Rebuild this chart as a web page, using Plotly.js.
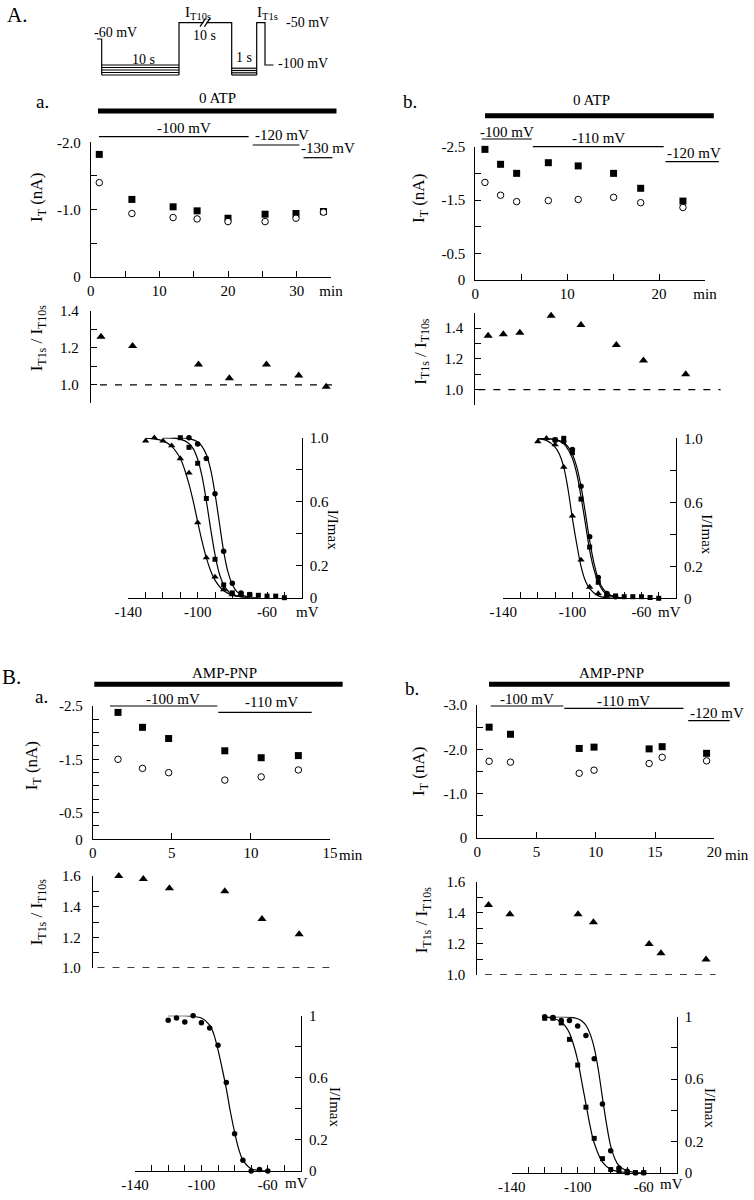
<!DOCTYPE html>
<html><head><meta charset="utf-8">
<script src="https://cdn.plot.ly/plotly-3.0.1.min.js"></script>
<style>body{margin:0;background:#fff}#chart{width:754px;height:1200px}</style>
</head><body><div id="chart"></div>
<script>
// ---------------- DATA ----------------
// A.a  (0 ATP)  IT vs time
const Aa_time_sq = [1.25, 6.0, 12.0, 15.5, 20.0, 25.4, 29.9, 33.9];
const Aa_IT1s    = [-1.82, -1.15, -1.04, -0.98, -0.87, -0.93, -0.94, -0.97];
const Aa_IT10s   = [-1.40, -0.94, -0.88, -0.86, -0.82, -0.82, -0.87, -0.96];
const Aa_time_r  = [1.5, 6.1, 15.7, 20.2, 25.6, 30.3, 34.3];
const Aa_ratio   = [1.26, 1.21, 1.11, 1.035, 1.11, 1.05, 0.99];
// A.a  I/Imax
const Aa_V_tri = [-130,-125,-120,-115,-110,-105,-100,-95,-90,-85,-80,-75];
const Aa_I_tri = [0.98,1.0,0.98,0.95,0.87,0.78,0.47,0.25,0.13,0.05,0.02,0.02];
const Aa_V_sq  = [-110,-105,-100,-95,-90,-85,-80,-75,-70,-65,-60,-55,-50];
const Aa_I_sq  = [1.0,0.94,0.84,0.62,0.24,0.08,0.03,0.02,0.02,0.015,0.01,0.01,0.0];
const Aa_V_ci  = [-105,-100,-95,-90,-85,-80,-75,-70];
const Aa_I_ci  = [1.0,0.96,0.87,0.65,0.29,0.09,0.03,0.02];
const Aa_fitV_tri = [-130,-125,-120,-115,-110,-107.5,-105,-102.5,-100,-97.5,-95,-92.5,-90,-85,-80,-75,-70];
const Aa_fitI_tri = [0.997,0.992,0.98,0.946,0.87,0.80,0.71,0.60,0.475,0.354,0.25,0.168,0.11,0.043,0.016,0.006,0.0];
const Aa_fitV_sq  = [-120,-110,-105,-102.5,-100,-97.5,-95,-92.5,-90,-87.5,-85,-82.5,-80,-75,-70];
const Aa_fitI_sq  = [0.9995,0.991,0.964,0.93,0.865,0.76,0.606,0.43,0.27,0.15,0.081,0.042,0.021,0.005,0.0];
const Aa_fitV_ci  = [-115,-110,-105,-100,-97.5,-95,-92.5,-90,-87.5,-85,-82.5,-80,-77.5,-75,-70,-65];
const Aa_fitI_ci  = [1.0,0.999,0.994,0.975,0.946,0.895,0.80,0.65,0.47,0.29,0.16,0.083,0.04,0.02,0.004,0.0];

// A.b  (0 ATP)
const Ab_time_sq = [1.05, 2.75, 4.5, 7.95, 11.2, 15.05, 18.0, 22.6];
const Ab_IT1s    = [-2.45, -2.17, -2.0, -2.2, -2.14, -2.0, -1.72, -1.48];
const Ab_IT10s   = [-1.83, -1.59, -1.47, -1.49, -1.51, -1.55, -1.45, -1.36];
const Ab_time_r  = [1.4, 3.05, 4.85, 8.25, 11.5, 15.35, 18.3, 22.9];
const Ab_ratio   = [1.35, 1.36, 1.37, 1.48, 1.42, 1.29, 1.19, 1.10];
const Ab_V_tri = [-120,-115,-110,-105,-100,-95,-90,-85,-80];
const Ab_I_tri = [0.98,1.0,0.96,0.82,0.515,0.24,0.07,0.03,0.02];
const Ab_V_sq  = [-110,-105,-100,-95,-90,-85,-80,-75,-70,-65,-60,-55,-50];
const Ab_I_sq  = [0.99,1.0,0.91,0.62,0.32,0.10,0.02,0.015,0.01,0.01,0.01,0.005,0.0];
const Ab_V_ci  = [-110,-105,-100,-95,-90,-85,-80,-75];
const Ab_I_ci  = [0.99,0.98,0.93,0.70,0.385,0.13,0.03,0.01];
const Ab_fitV_tri = [-120,-115,-110,-107.5,-105,-102.5,-100,-97.5,-95,-92.5,-90,-85,-80,-75];
const Ab_fitI_tri = [0.997,0.987,0.945,0.90,0.82,0.68,0.50,0.34,0.20,0.11,0.06,0.015,0.003,0.0];
const Ab_fitV_sq  = [-120,-110,-105,-102.5,-100,-97.5,-95,-92.5,-90,-87.5,-85,-82.5,-80,-75,-70];
const Ab_fitI_sq  = [0.999,0.991,0.965,0.93,0.875,0.78,0.635,0.47,0.30,0.18,0.10,0.05,0.026,0.007,0.0];
const Ab_fitV_ci  = [-120,-110,-105,-102.5,-100,-97.5,-95,-92.5,-90,-87.5,-85,-82.5,-80,-75,-70];
const Ab_fitI_ci  = [0.9995,0.993,0.973,0.946,0.90,0.823,0.70,0.535,0.36,0.22,0.12,0.064,0.034,0.009,0.0];

// B.a  (AMP-PNP)
const Ba_time_sq = [1.6, 3.15, 4.8, 8.35, 10.65, 13.0];
const Ba_IT1s    = [-2.38, -2.10, -1.89, -1.66, -1.53, -1.57];
const Ba_IT10s   = [-1.50, -1.33, -1.25, -1.11, -1.17, -1.30];
const Ba_time_r  = [1.65, 3.2, 4.85, 8.35, 10.7, 13.05];
const Ba_ratio   = [1.60, 1.58, 1.52, 1.50, 1.32, 1.22];
const Ba_V_ci = [-120,-115,-110,-105,-100,-95,-90,-85,-80,-75,-70,-65,-60];
const Ba_I_ci = [0.97,0.985,0.96,1.0,0.955,0.92,0.81,0.57,0.24,0.07,0.0,0.01,0.0];
const Ba_fitV_ci = [-120,-110,-105,-100,-95,-92.5,-90,-87.5,-85,-82.5,-80,-77.5,-75,-70,-65,-60];
const Ba_fitI_ci = [1.0,1.0,0.995,0.985,0.94,0.88,0.78,0.66,0.53,0.38,0.25,0.14,0.07,0.015,0.003,0.0];

// B.b  (AMP-PNP)
const Bb_time_sq = [1.0, 2.8, 8.6, 9.85, 14.5, 15.6, 19.35];
const Bb_IT1s    = [-2.50, -2.34, -2.02, -2.05, -2.01, -2.06, -1.91];
const Bb_IT10s   = [-1.73, -1.71, -1.46, -1.53, -1.68, -1.82, -1.74];
const Bb_time_r  = [0.95, 2.75, 8.5, 9.8, 14.5, 15.5, 19.3];
const Bb_ratio   = [1.45, 1.39, 1.39, 1.34, 1.20, 1.14, 1.10];
const Bb_V_sq = [-120,-115,-110,-105,-100,-95,-90,-85,-80,-75,-70,-65,-60];
const Bb_I_sq = [0.99,0.99,0.96,0.855,0.69,0.42,0.22,0.09,0.02,0.01,0.0,0.0,0.0];
const Bb_V_ci = [-120,-115,-110,-105,-100,-95,-90,-85,-80,-75,-70,-65,-60];
const Bb_I_ci = [1.0,0.995,0.975,0.975,0.94,0.88,0.73,0.44,0.14,0.03,0.01,0.0,0.0];
const Bb_fitV_sq = [-120,-115,-110,-107.5,-105,-102.5,-100,-97.5,-95,-92.5,-90,-85,-80,-75,-70];
const Bb_fitI_sq = [0.997,0.99,0.966,0.94,0.895,0.82,0.72,0.58,0.44,0.30,0.19,0.068,0.022,0.007,0.0];
const Bb_fitV_ci = [-120,-110,-105,-100,-97.5,-95,-92.5,-90,-87.5,-85,-82.5,-80,-77.5,-75,-70,-65,-60];
const Bb_fitI_ci = [1.0,0.999,0.997,0.987,0.973,0.945,0.89,0.80,0.66,0.48,0.31,0.17,0.09,0.045,0.011,0.003,0.0];

// voltage epochs (min) and labels
const Aa_epochStart = [1.2, 23.6, 31.0], Aa_epochEnd = [23.0, 30.4, 35.2];
const Aa_epochLabel = ['-100 mV', '-120 mV', '-130 mV'], Aa_epochLabelX = [13.6, 27.8, 34.5];
const Ab_epochStart = [0.7, 6.26, 20.7], Ab_epochEnd = [6.15, 20.5, 26.5];
const Ab_epochLabel = ['-100 mV', '-110 mV', '-120 mV'], Ab_epochLabelX = [3.46, 13.4, 23.75];
const Ba_epochStart = [1.09, 7.94], Ba_epochEnd = [7.88, 13.84];
const Ba_epochLabel = ['-100 mV', '-110 mV'], Ba_epochLabelX = [5.1, 11.3];
const Bb_epochStart = [1.13, 7.34, 17.8], Bb_epochEnd = [7.26, 17.4, 21.3];
const Bb_epochLabel = ['-100 mV', '-110 mV', '-120 mV'], Bb_epochLabelX = [4.2, 12.3, 20.2];
const drugStart = {Aa:1.06, Ab:1.06, Ba:0.1, Bb:0.99};
const drugEnd   = {Aa:35.8, Ab:25.96, Ba:15.8, Bb:21.3};
const drugLabel = {Aa:'0 ATP', Ab:'0 ATP', Ba:'AMP-PNP', Bb:'AMP-PNP'};
const drugLabelX = {Aa:18.5, Ab:12.7, Ba:8.3, Bb:11.3};

// protocol schematic (diagram units = page pixels)
const protoX = [97,101.7,101.7,null,101.7,179,null,101.7,179,null,101.7,179,null,101.7,179,null,101.7,179,null,
  179,179,203.5,null,206.5,231.7,231.7,null,231.7,256.7,null,231.7,256.7,null,231.7,256.7,null,231.7,256.7,null,
  256.7,256.7,265,265,273.5,null,200,205.5,null,204.5,210];
const protoY = [39,39,75,null,65,65,null,67.5,67.5,null,70,70,null,72.5,72.5,null,75,75,null,
  75,22.7,22.7,null,22.7,22.7,75,null,68.2,68.2,null,70.5,70.5,null,72.8,72.8,null,75,75,null,
  75,22.7,22.7,65,65,null,26.7,18.3,null,26.7,18.3];

// ---------------- LAYOUT HELPERS ----------------
const W = 754, H = 1200, FONT = '"Liberation Serif", "Times New Roman", serif';
const dx = (a,b) => [a/W, b/W];
const dy = (top,bot) => [1-bot/H, 1-top/H];
const fx = p => p/W, fy = p => 1-p/H;
const base = {showline:true, linecolor:'#000', linewidth:1, ticks:'inside', ticklen:6, tickwidth:1,
  tickcolor:'#000', showgrid:false, zeroline:false, fixedrange:true, tickmode:'array',
  tickfont:{family:FONT, size:15, color:'#000'}};
const ax = o => Object.assign({}, base, o);
const hidden = o => Object.assign({visible:false, fixedrange:true}, o);

const R = {
  Aa:{x:[0,35]}, Ab:{x:[0,25]}, Ba:{x:[0,15]}, Bb:{x:[0,20]}
};
const frac = (r,v) => (v - r[0])/(r[1]-r[0]);

const ivX = (dom) => ax({domain:dom, range:[-140,-40], tickvals:[-140,-130,-120,-110,-100,-90,-80,-70,-60,-50],
  ticktext:['-140','','','','-100','','','','-60','']});
const ivY = (dom, top) => ax({domain:dom, range:[0,1], side:'right', tickvals:[0,0.2,0.4,0.6,0.8,1.0],
  ticktext:['0','0.2','','0.6','',top], ticklabelstandoff:4});

const layout = {
  width:W, height:H, margin:{l:0,r:0,t:0,b:0}, paper_bgcolor:'#fff', plot_bgcolor:'rgba(0,0,0,0)',
  showlegend:false, font:{family:FONT, size:15, color:'#000'},
  // A.a
  xaxis: ax({domain:dx(90.7,331), range:R.Aa.x, anchor:'y', tickvals:[0,5,10,15,20,25,30,35],
    ticktext:['0','','10','','20','','30','min']}),
  yaxis: ax({domain:dy(142.3,276.7), range:[0,-2], anchor:'x', tickvals:[0,-0.5,-1,-1.5,-2],
    ticktext:['0','','-1.0','','-2.0'], ticklabelstandoff:6}),
  xaxis2: hidden({domain:dx(90.7,331), range:R.Aa.x, anchor:'y2'}),
  yaxis2: ax({domain:dy(310.7,403.3), range:[0.9,1.4], anchor:'x2', tickvals:[0.9,1.0,1.1,1.2,1.3,1.4],
    ticktext:['','1.0','','1.2','','1.4'], ticklabelstandoff:8}),
  xaxis3: Object.assign(ivX(dx(128.3,301.7)), {anchor:'y3'}),
  yaxis3: Object.assign(ivY(dy(437.7,597.7),'1.0'), {anchor:'x3'}),
  // A.b
  xaxis4: ax({domain:dx(475.3,705), range:R.Ab.x, anchor:'y4', tickvals:[0,5,10,15,20,25],
    ticktext:['0','','10','','20','min']}),
  yaxis4: ax({domain:dy(146.7,280), range:[0,-2.5], anchor:'x4', tickvals:[0,-0.5,-1,-1.5,-2,-2.5],
    ticktext:['0','-0.5','','-1.5','','-2.5'], ticklabelstandoff:6}),
  xaxis5: hidden({domain:dx(475.3,705), range:R.Ab.x, anchor:'y5'}),
  yaxis5: ax({domain:dy(312.7,405), range:[0.9,1.5], anchor:'x5', tickvals:[0.9,1.0,1.1,1.2,1.3,1.4,1.5],
    ticktext:['','1.0','','1.2','','1.4',''], ticklabelstandoff:8}),
  xaxis6: Object.assign(ivX(dx(503.3,676)), {anchor:'y6'}),
  yaxis6: Object.assign(ivY(dy(438.3,598.3),'1.0'), {anchor:'x6'}),
  // B.a
  xaxis7: ax({domain:dx(92.7,330), range:R.Ba.x, anchor:'y7', tickvals:[0,5,10,15], ticktext:['0','5','10','15']}),
  yaxis7: ax({domain:dy(706,839.3), range:[0,-2.5], anchor:'x7',
    tickvals:[0,-0.25,-0.5,-0.75,-1,-1.25,-1.5,-1.75,-2,-2.25,-2.5],
    ticktext:['0','','-0.5','','','','-1.5','','','','-2.5'], ticklabelstandoff:6}),
  xaxis8: hidden({domain:dx(92.7,330), range:R.Ba.x, anchor:'y8'}),
  yaxis8: ax({domain:dy(876,968), range:[1.0,1.6], anchor:'x8', tickvals:[1.0,1.1,1.2,1.3,1.4,1.5,1.6],
    ticktext:['1.0','','1.2','','1.4','','1.6'], ticklabelstandoff:8}),
  xaxis9: Object.assign(ivX(dx(135,301)), {anchor:'y9'}),
  yaxis9: Object.assign(ivY(dy(1015.7,1171),'1'), {anchor:'x9'}),
  // B.b
  xaxis10: ax({domain:dx(477.3,714.3), range:R.Bb.x, anchor:'y10', tickvals:[0,5,10,15,20], ticktext:['0','5','10','15','20']}),
  yaxis10: ax({domain:dy(705,838), range:[0,-3], anchor:'x10', tickvals:[0,-0.5,-1,-1.5,-2,-2.5,-3],
    ticktext:['0','','-1.0','','-2.0','','-3.0'], ticklabelstandoff:6}),
  xaxis11: hidden({domain:dx(477.3,714.3), range:R.Bb.x, anchor:'y11'}),
  yaxis11: ax({domain:dy(881.7,975), range:[1.0,1.6], anchor:'x11', tickvals:[1.0,1.1,1.2,1.3,1.4,1.5,1.6],
    ticktext:['1.0','','1.2','','1.4','','1.6'], ticklabelstandoff:8}),
  xaxis12: Object.assign(ivX(dx(511.7,676.7)), {anchor:'y12'}),
  yaxis12: Object.assign(ivY(dy(1016.7,1172.7),'1'), {anchor:'x12'}),
  // protocol diagram overlay (page-pixel units)
  xaxis13: hidden({domain:[0,1], range:[0,W], anchor:'y13'}),
  yaxis13: hidden({domain:[0,1], range:[H,0], anchor:'x13'}),
  shapes:[], annotations:[]
};

// ---------------- TRACES ----------------
const traces = [];
const sq = (x,y,xa,ya,s) => ({x,y,xaxis:xa,yaxis:ya,type:'scatter',mode:'markers',cliponaxis:false,
  marker:{symbol:'square',size:s||7,color:'#000'}});
const ci = (x,y,xa,ya,s) => ({x,y,xaxis:xa,yaxis:ya,type:'scatter',mode:'markers',cliponaxis:false,
  marker:{symbol:'circle',size:s||6.5,color:'#fff',line:{color:'#000',width:1}}});
const cif = (x,y,xa,ya) => ({x,y,xaxis:xa,yaxis:ya,type:'scatter',mode:'markers',cliponaxis:false,
  marker:{symbol:'circle',size:5.5,color:'#000'}});
const tri = (x,y,xa,ya,s) => ({x,y,xaxis:xa,yaxis:ya,type:'scatter',mode:'markers',cliponaxis:false,
  marker:{symbol:'triangle-up',size:s||8,color:'#000'}});
const fit = (x,y,xa,ya) => ({x,y,xaxis:xa,yaxis:ya,type:'scatter',mode:'lines',cliponaxis:false,
  line:{color:'#000',width:1.2,shape:'spline',smoothing:1}});

// A.a
traces.push(sq(Aa_time_sq,Aa_IT1s,'x','y'), ci(Aa_time_sq,Aa_IT10s,'x','y'), tri(Aa_time_r,Aa_ratio,'x2','y2'));
traces.push(fit(Aa_fitV_tri,Aa_fitI_tri,'x3','y3'), fit(Aa_fitV_sq,Aa_fitI_sq,'x3','y3'), fit(Aa_fitV_ci,Aa_fitI_ci,'x3','y3'));
traces.push(tri(Aa_V_tri,Aa_I_tri,'x3','y3',6.5), sq(Aa_V_sq,Aa_I_sq,'x3','y3',5), cif(Aa_V_ci,Aa_I_ci,'x3','y3'));
// A.b
traces.push(sq(Ab_time_sq,Ab_IT1s,'x4','y4'), ci(Ab_time_sq,Ab_IT10s,'x4','y4'), tri(Ab_time_r,Ab_ratio,'x5','y5'));
traces.push(fit(Ab_fitV_tri,Ab_fitI_tri,'x6','y6'), fit(Ab_fitV_sq,Ab_fitI_sq,'x6','y6'), fit(Ab_fitV_ci,Ab_fitI_ci,'x6','y6'));
traces.push(tri(Ab_V_tri,Ab_I_tri,'x6','y6',6.5), sq(Ab_V_sq,Ab_I_sq,'x6','y6',5), cif(Ab_V_ci,Ab_I_ci,'x6','y6'));
// B.a
traces.push(sq(Ba_time_sq,Ba_IT1s,'x7','y7'), ci(Ba_time_sq,Ba_IT10s,'x7','y7'), tri(Ba_time_r,Ba_ratio,'x8','y8'));
traces.push(fit(Ba_fitV_ci,Ba_fitI_ci,'x9','y9'), cif(Ba_V_ci,Ba_I_ci,'x9','y9'));
// B.b
traces.push(sq(Bb_time_sq,Bb_IT1s,'x10','y10'), ci(Bb_time_sq,Bb_IT10s,'x10','y10'), tri(Bb_time_r,Bb_ratio,'x11','y11'));
traces.push(fit(Bb_fitV_sq,Bb_fitI_sq,'x12','y12'), fit(Bb_fitV_ci,Bb_fitI_ci,'x12','y12'));
traces.push(sq(Bb_V_sq,Bb_I_sq,'x12','y12',5), cif(Bb_V_ci,Bb_I_ci,'x12','y12'));
// protocol
traces.push({x:protoX,y:protoY,xaxis:'x13',yaxis:'y13',type:'scatter',mode:'lines',cliponaxis:false,
  line:{color:'#000',width:1.2}});

// ---------------- DECORATIONS ----------------
const A = (text,x,y,o) => layout.annotations.push(Object.assign({text, x, y, xref:'paper', yref:'paper',
  showarrow:false, xanchor:'center', yanchor:'middle', font:{family:FONT,size:15,color:'#000'}}, o||{}));
const hline = (xref,x0,x1,y,w) => layout.shapes.push({type:'line', xref, yref:'paper', x0, x1, y0:fy(y), y1:fy(y),
  line:{color:'#000', width:w}});

function epochs(key, xa, st, en, lab, labX, barY, labY, drugBarY, drugLabY) {
  const r = R[key].x, xref = xa + ' domain';
  hline(xref, frac(r,drugStart[key]), frac(r,drugEnd[key]), drugBarY, 5);
  layout.annotations.push({text:drugLabel[key], xref, yref:'paper', x:frac(r,drugLabelX[key]), y:fy(drugLabY),
    showarrow:false, xanchor:'center', yanchor:'middle', font:{family:FONT,size:15,color:'#000'}});
  for (let i=0;i<st.length;i++){
    hline(xref, frac(r,st[i]), frac(r,en[i]), barY[i], 1.2);
    layout.annotations.push({text:lab[i], xref, yref:'paper', x:frac(r,labX[i]), y:fy(labY[i]),
      showarrow:false, xanchor:'center', yanchor:'middle', font:{family:FONT,size:15,color:'#000'}});
  }
}
epochs('Aa','x',Aa_epochStart,Aa_epochEnd,Aa_epochLabel,Aa_epochLabelX,[136.7,145,157.7],[127.7,135,148],111,97.7);
epochs('Ab','x4',Ab_epochStart,Ab_epochEnd,Ab_epochLabel,Ab_epochLabelX,[139,146.7,161.7],[131.7,138.3,153.3],115.7,100);
epochs('Ba','x7',Ba_epochStart,Ba_epochEnd,Ba_epochLabel,Ba_epochLabelX,[706,712.3],[699,701.7],684.3,673.3);
epochs('Bb','x10',Bb_epochStart,Bb_epochEnd,Bb_epochLabel,Bb_epochLabelX,[706,708.3,720.7],[699,701,713.3],684.3,673.3);

// dashed reference lines at ratio = 1
const refLine = (key, ya, xa, a, b) => layout.shapes.push({type:'line', xref:xa+' domain', yref:ya,
  x0:frac(R[key].x,a), x1:frac(R[key].x,b), y0:1, y1:1, line:{color:'#000', width:1.3, dash:'7px,8px'}});
refLine('Aa','y2','x2',1.35,35.7);
refLine('Ab','y5','x5',0.33,26.7);
refLine('Ba','y8','x8',0.3,15.2);
refLine('Bb','y11','x11',0.65,20.1);

// panel letters
A('A.', fx(17), fy(15), {font:{family:FONT,size:21,color:'#000'}});
A('a.', fx(42), fy(101), {font:{family:FONT,size:19,color:'#000'}});
A('b.', fx(410), fy(101), {font:{family:FONT,size:19,color:'#000'}});
A('B.', fx(11), fy(677), {font:{family:FONT,size:21,color:'#000'}});
A('a.', fx(41.7), fy(696), {font:{family:FONT,size:19,color:'#000'}});
A('b.', fx(411.7), fy(688), {font:{family:FONT,size:19,color:'#000'}});

// axis titles
const IT = 'I<sub>T</sub> (nA)', RT = 'I<sub>T1s</sub> / I<sub>T10s</sub>';
const TF = {font:{family:FONT,size:17,color:'#000'}, textangle:-90};
A(IT, fx(38), fy(198), TF);
A(IT, fx(420), fy(199), TF);
A(IT, fx(33.3), fy(766), TF);
A(IT, fx(420), fy(772), TF);
A(RT, fx(38.3), fy(338), TF);
A(RT, fx(421.7), fy(351), TF);
A(RT, fx(38.3), fy(912), TF);
A(RT, fx(423.3), fy(920), TF);
A('I/Imax', fx(333.3), fy(530), {textangle:90});
A('I/Imax', fx(706.7), fy(534), {textangle:90});
A('I/Imax', fx(335), fy(1107), {textangle:90});
A('I/Imax', fx(710), fy(1108), {textangle:90});
// mV / min unit labels
A('mV', fx(307), fy(612));
A('mV', fx(669), fy(612));
A('mV', fx(296.7), fy(1183));
A('mV', fx(671.7), fy(1184));
A('min', fx(351), fy(855));
A('min', fx(737), fy(855));

// protocol labels
const PF = {font:{family:FONT,size:14,color:'#000'}};
A('-60 mV', fx(115), fy(32.3), PF);
A('10 s', fx(143), fy(59.3), PF);
A('I<sub>T10s</sub>', fx(198), fy(13.3), {font:{family:FONT,size:15,color:'#000'}});
A('10 s', fx(205), fy(35), PF);
A('1 s', fx(244), fy(57.3), PF);
A('I<sub>T1s</sub>', fx(267), fy(12.7), {font:{family:FONT,size:15,color:'#000'}});
A('-50 mV', fx(307), fy(22.7), PF);
A('-100 mV', fx(303), fy(63.3), PF);

Plotly.newPlot('chart', traces, layout, {staticPlot:true, displayModeBar:false});
</script></body></html>
